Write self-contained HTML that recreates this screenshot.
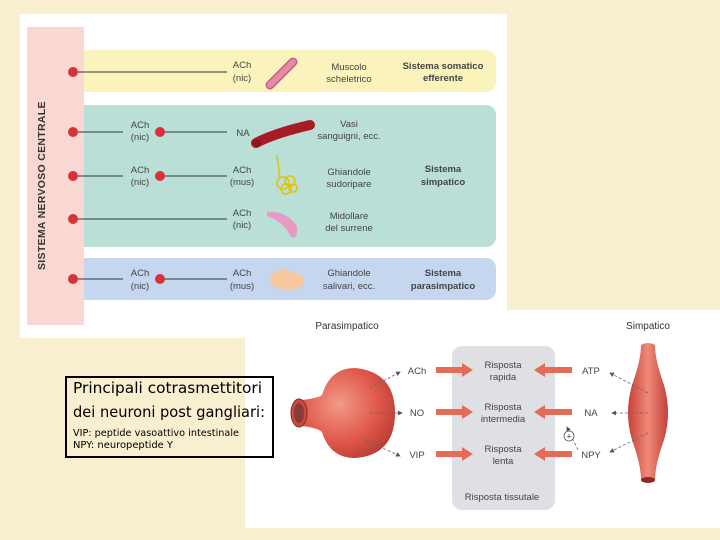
<!DOCTYPE html>
<html><head><meta charset="utf-8"><style>
body{margin:0;width:720px;height:540px;overflow:hidden;background:#f7efcf;font-family:"Liberation Sans",sans-serif}
svg{position:absolute;left:0;top:0}
</style></head><body>
<svg width="720" height="540" viewBox="0 0 720 540" font-family="Liberation Sans, sans-serif">
<defs>
<radialGradient id="rg" cx="0.4" cy="0.4" r="0.7"><stop offset="0" stop-color="#f29a88"/><stop offset="0.6" stop-color="#e0584a"/><stop offset="1" stop-color="#b43a32"/></radialGradient>
<linearGradient id="lg" x1="0" x2="1"><stop offset="0" stop-color="#c7403a"/><stop offset="0.5" stop-color="#f08a78"/><stop offset="1" stop-color="#c0403a"/></linearGradient>
<marker id="ah" markerWidth="6" markerHeight="6" refX="5" refY="3" orient="auto"><path d="M0,0 L6,3 L0,6z" fill="#555"/></marker>
</defs>
<rect x="20" y="14" width="487" height="324" fill="#fff"/>
<rect x="245" y="310" width="475" height="218" fill="#fff"/>
<rect x="27" y="27" width="57" height="298" fill="#f9d7d2"/>
<text transform="translate(45,270) rotate(-90)" font-size="10.5" font-weight="bold" fill="#333" letter-spacing="0.3">SISTEMA NERVOSO CENTRALE</text>
<path d="M84 50 H486 a10 10 0 0 1 10 10 V82 a10 10 0 0 1 -10 10 H84z" fill="#fbf3bc"/>
<path d="M84 105 H486 a10 10 0 0 1 10 10 V237 a10 10 0 0 1 -10 10 H84z" fill="#b9dfd6"/>
<path d="M84 258 H486 a10 10 0 0 1 10 10 V290 a10 10 0 0 1 -10 10 H84z" fill="#c5d7ee"/>
<g stroke="#333" stroke-width="1" fill="none">
<line x1="73" y1="72" x2="227" y2="72"/><line x1="73" y1="132" x2="123" y2="132"/><line x1="160" y1="132" x2="227" y2="132"/>
<line x1="73" y1="176" x2="123" y2="176"/><line x1="160" y1="176" x2="227" y2="176"/>
<line x1="73" y1="219" x2="227" y2="219"/>
<line x1="73" y1="279" x2="123" y2="279"/><line x1="160" y1="279" x2="227" y2="279"/>
</g>
<g fill="#d7323a"><circle cx="73" cy="72" r="5"/><circle cx="73" cy="132" r="5"/><circle cx="73" cy="176" r="5"/><circle cx="73" cy="219" r="5"/><circle cx="73" cy="279" r="5"/>
<circle cx="160" cy="132" r="5"/><circle cx="160" cy="176" r="5"/><circle cx="160" cy="279" r="5"/></g>
<g font-size="9.5" fill="#444" text-anchor="middle">
<text x="242" y="68">ACh</text><text x="242" y="81">(nic)</text>
<text x="140" y="128">ACh</text><text x="140" y="140">(nic)</text><text x="243" y="136">NA</text>
<text x="140" y="173">ACh</text><text x="140" y="185">(nic)</text><text x="242" y="173">ACh</text><text x="242" y="185">(mus)</text>
<text x="242" y="216">ACh</text><text x="242" y="228">(nic)</text>
<text x="140" y="276">ACh</text><text x="140" y="289">(nic)</text><text x="242" y="276">ACh</text><text x="242" y="289">(mus)</text>
<text x="349" y="70">Muscolo</text><text x="349" y="82">scheletrico</text>
<text x="349" y="127">Vasi</text><text x="349" y="139">sanguigni, ecc.</text>
<text x="349" y="175">Ghiandole</text><text x="349" y="187">sudoripare</text>
<text x="349" y="219">Midollare</text><text x="349" y="231">del surrene</text>
<text x="349" y="276">Ghiandole</text><text x="349" y="289">salivari, ecc.</text>
<g font-weight="bold"><text x="443" y="69">Sistema somatico</text><text x="443" y="81">efferente</text>
<text x="443" y="172">Sistema</text><text x="443" y="185">simpatico</text>
<text x="443" y="276">Sistema</text><text x="443" y="289">parasimpatico</text></g>
</g>
<line x1="270" y1="85" x2="293" y2="62" stroke="#c76080" stroke-width="9" stroke-linecap="round"/>
<line x1="270" y1="85" x2="293" y2="62" stroke="#e48aa6" stroke-width="6" stroke-linecap="round"/>
<path d="M256 143 Q275 133 310 125" stroke="#a71c24" stroke-width="10" stroke-linecap="round" fill="none"/>
<circle cx="257" cy="143" r="4" fill="#8c151c"/>
<g stroke="#e3c400" stroke-width="1.5" fill="none"><line x1="277" y1="155" x2="280" y2="178"/><circle cx="283" cy="183" r="6"/><circle cx="290" cy="181" r="5"/><circle cx="286" cy="189" r="5"/><circle cx="293" cy="188" r="4"/></g>
<path d="M267 212 Q285 210 297 226 Q298 240 291 237 Q284 222 267 216z" fill="#e59bc6"/>
<path d="M271 275 Q280 266 292 272 Q306 274 304 282 Q300 292 286 289 Q274 290 270 283z" fill="#f6c8a0"/>
<g font-size="10" fill="#333" text-anchor="middle">
<text x="347" y="329">Parasimpatico</text><text x="648" y="329">Simpatico</text></g>
<rect x="452" y="346" width="103" height="164" rx="10" fill="#dfe0e4"/>
<g font-size="9.5" fill="#444" text-anchor="middle">
<text x="503" y="368">Risposta</text><text x="503" y="380">rapida</text>
<text x="503" y="410">Risposta</text><text x="503" y="422">intermedia</text>
<text x="503" y="452">Risposta</text><text x="503" y="464">lenta</text>
<text x="502" y="500">Risposta tissutale</text>
<text x="417" y="374">ACh</text><text x="417" y="416">NO</text><text x="417" y="458">VIP</text>
<text x="591" y="374">ATP</text><text x="591" y="416">NA</text><text x="591" y="458">NPY</text>
</g>
<path d="M302 400 Q318 398 322 395 Q330 368 355 368 Q395 372 395 413 Q395 455 355 458 Q330 458 322 432 Q318 428 302 426z" fill="url(#rg)"/>
<ellipse cx="299" cy="413" rx="8" ry="14" fill="#c94a40" stroke="#8c2a26"/>
<ellipse cx="299" cy="413" rx="5" ry="10" fill="#8c3a36"/>
<path d="M641 345 Q648 341 655 345 Q655 360 664 385 Q672 413 664 440 Q655 465 655 480 L641 480 Q641 465 632 440 Q624 413 632 385 Q641 360 641 345z" fill="url(#lg)"/>
<ellipse cx="648" cy="480" rx="7" ry="3" fill="#8c2a26"/>
<g stroke="#666" stroke-width="0.8" stroke-dasharray="3,2" fill="none" marker-end="url(#ah)">
<line x1="370" y1="388" x2="400" y2="372"/><line x1="370" y1="413" x2="402" y2="413"/><line x1="365" y1="440" x2="400" y2="456"/>
<line x1="648" y1="393" x2="610" y2="373"/><line x1="648" y1="413" x2="612" y2="413"/><line x1="648" y1="433" x2="610" y2="452"/>
<line x1="578" y1="450" x2="567" y2="427"/>
</g>
<circle cx="569" cy="436" r="5" fill="#fff" stroke="#555" stroke-width="0.8"/><text x="569" y="439.5" font-size="9" text-anchor="middle" fill="#444">+</text>
<g fill="#e56a58">
<path d="M436 367 H462 V363 L473 370 L462 377 V373 H436z"/><path d="M436 409 H462 V405 L473 412 L462 419 V415 H436z"/><path d="M436 451 H462 V447 L473 454 L462 461 V457 H436z"/>
<path d="M572 367 H545 V363 L534 370 L545 377 V373 H572z"/><path d="M572 409 H545 V405 L534 412 L545 419 V415 H572z"/><path d="M572 451 H545 V447 L534 454 L545 461 V457 H572z"/>
</g>
<rect x="66" y="377" width="207" height="80" fill="none" stroke="#000" stroke-width="2"/>
<g font-family="DejaVu Sans, Liberation Sans, sans-serif" fill="#000">
<text x="73" y="393" font-size="15" textLength="189" lengthAdjust="spacingAndGlyphs">Principali cotrasmettitori</text>
<text x="73" y="417" font-size="15" textLength="192" lengthAdjust="spacingAndGlyphs">dei neuroni post gangliari:</text>
<text x="73" y="436" font-size="9.5" textLength="166" lengthAdjust="spacingAndGlyphs">VIP: peptide vasoattivo intestinale</text>
<text x="73" y="448" font-size="9.5" textLength="100" lengthAdjust="spacingAndGlyphs">NPY: neuropeptide Y</text>
</g>
</svg>
</body></html>
